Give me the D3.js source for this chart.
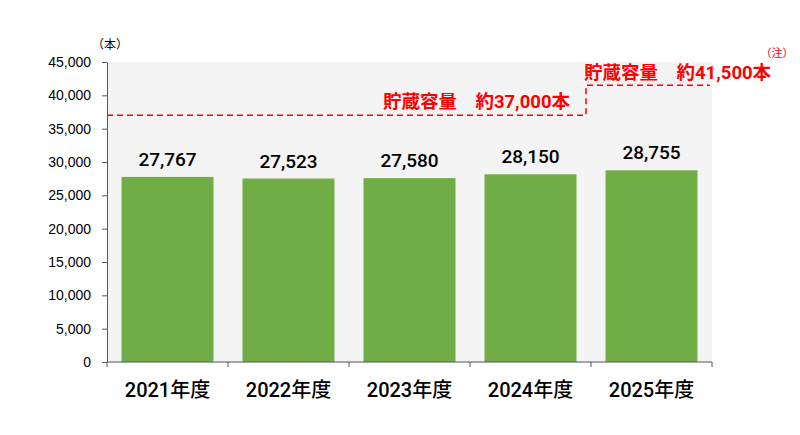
<!DOCTYPE html>
<html>
<head>
<meta charset="utf-8">
<script src="https://cdn.jsdelivr.net/npm/d3@7"></script>
<style>
  body { margin: 0; background: #fff; }
  svg text { font-family: Roboto, "Noto Sans CJK JP", sans-serif; }
</style>
</head>
<body>
<svg id="chart" width="800" height="435"></svg>
<script>
const years = ["2021年度", "2022年度", "2023年度", "2024年度", "2025年度"];
const counts = [27767, 27523, 27580, 28150, 28755];
const yTicks = [0, 5000, 10000, 15000, 20000, 25000, 30000, 35000, 40000, 45000];
// storage capacity applying to each fiscal year
const capacity = [37000, 37000, 37000, 37000, 41500];
const capacityLabels = ["貯蔵容量　約37,000本", "貯蔵容量　約41,500本"];

const svg = d3.select("#chart");
const plotLeft = 107, plotRight = 712, plotTop = 62, plotBottom = 362;

const x = d3.scaleBand()
  .domain(years)
  .range([plotLeft, plotRight])
  .paddingInner(0.24)
  .paddingOuter(0.12);

const y = d3.scaleLinear()
  .domain([0, 45000])
  .range([plotBottom, plotTop]);

const step = x.step();
const bandStart = i => x(years[i]) - x.paddingInner() * step / 2;

// plot background
svg.append("rect")
  .attr("x", plotLeft).attr("y", plotTop)
  .attr("width", plotRight - plotLeft).attr("height", plotBottom - plotTop)
  .attr("fill", "#f4f4f4");

// bars
svg.selectAll(".bar")
  .data(counts)
  .join("rect")
  .attr("class", "bar")
  .attr("x", (d, i) => x(years[i]))
  .attr("y", d => y(d))
  .attr("width", x.bandwidth())
  .attr("height", d => plotBottom - y(d))
  .attr("fill", "#70ad47");

// value labels
svg.selectAll(".val")
  .data(counts)
  .join("text")
  .attr("class", "val")
  .attr("x", (d, i) => x(years[i]) + x.bandwidth() / 2)
  .attr("y", d => y(d) - 11)
  .attr("text-anchor", "middle")
  .attr("font-size", 19)
  .attr("font-weight", 500)
  .attr("fill", "#000")
  .text(d => d3.format(",")(d));

// y axis
const yAxis = svg.append("g")
  .attr("transform", `translate(${plotLeft},0)`)
  .call(d3.axisLeft(y).tickValues(yTicks).tickFormat(d3.format(",")).tickSize(5).tickSizeOuter(0));
yAxis.select(".domain").attr("stroke", "#555");
yAxis.selectAll(".tick line").attr("stroke", "#555");
yAxis.selectAll(".tick text")
  .attr("x", -16)
  .attr("font-size", 14)
  .attr("fill", "#000")
  .style("font-family", "Arial, 'Liberation Sans', sans-serif");

// x axis
const xAxis = svg.append("g")
  .attr("transform", `translate(0,${plotBottom})`);
xAxis.append("line")
  .attr("x1", plotLeft).attr("x2", plotRight)
  .attr("stroke", "#555");
const bounds = d3.range(years.length + 1).map(i => plotLeft + x.paddingOuter() * step - x.paddingInner() * step / 2 + i * step);
xAxis.selectAll(".xt")
  .data(bounds)
  .join("line")
  .attr("x1", d => d).attr("x2", d => d)
  .attr("y1", 0).attr("y2", 5)
  .attr("stroke", "#555");
xAxis.selectAll(".xl")
  .data(years)
  .join("text")
  .attr("x", d => x(d) + x.bandwidth() / 2)
  .attr("y", 35)
  .attr("text-anchor", "middle")
  .attr("font-size", 20)
  .attr("font-weight", 500)
  .attr("fill", "#000")
  .text(d => d);

// unit
svg.append("text")
  .attr("x", 110).attr("y", 49)
  .attr("text-anchor", "middle")
  .attr("font-size", 12)
  .attr("fill", "#000")
  .text("（本）");

// capacity dashed step line
const mid = bandStart(4) - 5;
const pts = [
  [plotLeft, y(capacity[0])],
  [mid, y(capacity[3])],
  [mid, y(capacity[4])],
  [plotRight - 2, y(capacity[4])]
];
svg.append("path")
  .attr("d", d3.line()(pts))
  .attr("fill", "none")
  .attr("stroke", "#ff0000")
  .attr("stroke-width", 1.5)
  .attr("stroke-dasharray", "6,4");

svg.append("text")
  .attr("x", mid - 16).attr("y", y(capacity[0]) - 7)
  .attr("text-anchor", "end")
  .attr("font-size", 18.5)
  .attr("font-weight", 700)
  .attr("fill", "#ff0000")
  .text(capacityLabels[0]);

svg.append("text")
  .attr("x", mid - 2).attr("y", y(capacity[4]) - 6)
  .attr("text-anchor", "start")
  .attr("font-size", 18.5)
  .attr("font-weight", 700)
  .attr("fill", "#ff0000")
  .text(capacityLabels[1]);

svg.append("text")
  .attr("x", 777).attr("y", 57)
  .attr("text-anchor", "middle")
  .attr("font-size", 11)
  .attr("fill", "#ff0000")
  .text("（注）");
</script>
</body>
</html>
